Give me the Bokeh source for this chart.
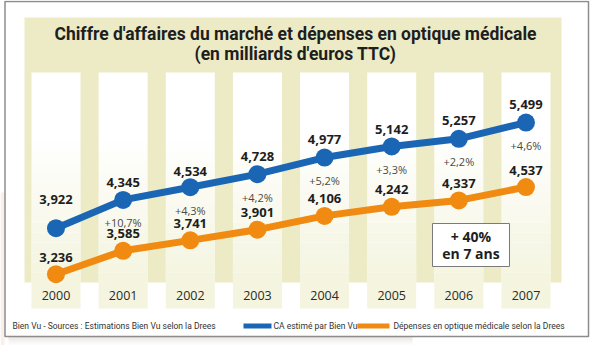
from bokeh.plotting import figure
from bokeh.models import Range1d
from bokeh.core.properties import value
from bokeh.embed import file_html
from bokeh.resources import INLINE

# ---------------- data ----------------
years = [2000, 2001, 2002, 2003, 2004, 2005, 2006, 2007]
year_labels = ["2000", "2001", "2002", "2003", "2004", "2005", "2006", "2007"]
ca_values = [3.922, 4.345, 4.534, 4.728, 4.977, 5.142, 5.257, 5.499]
ca_labels = ["3,922", "4,345", "4,534", "4,728", "4,977", "5,142", "5,257", "5,499"]
dep_values = [3.236, 3.585, 3.741, 3.901, 4.106, 4.242, 4.337, 4.537]
dep_labels = ["3,236", "3,585", "3,741", "3,901", "4,106", "4,242", "4,337", "4,537"]
growth_years = [2001, 2002, 2003, 2004, 2005, 2006, 2007]
growth_labels = ["+10,7%", "+4,3%", "+4,2%", "+5,2%", "+3,3%", "+2,2%", "+4,6%"]

title_line1 = "Chiffre d'affaires du marché et dépenses en optique médicale"
title_line2 = "(en milliards d'euros TTC)"
source_text = "Bien Vu - Sources : Estimations Bien Vu selon la Drees"
legend_ca = "CA estimé par Bien Vu"
legend_dep = "Dépenses en optique médicale selon la Drees"
box_line1 = "+ 40%"
box_line2 = "en 7 ans"

# ---------------- layout helpers (page pixels -> data) ----------------
PX_PER_YEAR = 67.14
PX_PER_UNIT = 67.0


def X(px):
    return 2000 + (px - 63.5) / PX_PER_YEAR


def Y(py):
    return (498.5 - py) / PX_PER_UNIT


def dy(pix):
    return pix / PX_PER_UNIT


BLUE = "#1b66b4"
ORANGE = "#f08a11"
PANEL = "#ecebc6"
CELL = "#f4f4df"
DARK = "#1e1e1e"
TITLE_FONT = value("Roboto")
SMALL_FONT = value("Roboto")

p = figure(width=592, height=345,
           x_range=Range1d(X(8), X(600)), y_range=Range1d(Y(353), Y(8)),
           output_backend="svg", toolbar_location=None, min_border=0,
           x_axis_location=None, y_axis_location=None,
           outline_line_color=None, background_fill_color="white",
           border_fill_color="white")
p.grid.visible = False

# soft shadow below the frame
for k, a in enumerate([0.35, 0.25, 0.15, 0.08]):
    p.quad(left=X(16), right=X(420), top=Y(344 + 2 * k), bottom=Y(346 + 2 * k),
           fill_color="#c9b8b0", fill_alpha=a, line_color=None)
p.quad(left=X(8), right=X(12), top=Y(200), bottom=Y(353),
       fill_color="#f6e6da", fill_alpha=0.6, line_color=None)

# frame
p.quad(left=X(12.5), right=X(596), top=Y(9), bottom=Y(344),
       fill_color="white", line_color="#8c8c8c", line_width=1.5)

# beige panel
p.quad(left=X(32), right=X(569), top=Y(25), bottom=Y(290),
       fill_color=PANEL, line_color=None)

# white columns with a soft gradient to beige at the bottom
col_w = 49 / PX_PER_YEAR
p.vbar(x=years, width=col_w, top=Y(80), bottom=Y(290),
       fill_color="white", line_color=None)
n = 14
for k in range(n):
    p.vbar(x=years, width=col_w, top=Y(150 + 10 * k), bottom=Y(160 + 10 * k),
           fill_color=CELL, fill_alpha=(k + 1) / n, line_color=None)
# year cells
p.vbar(x=years, width=col_w, top=Y(290), bottom=Y(316),
       fill_color=CELL, line_color=None)

# title
p.text(x=[X(303)], y=[Y(41)], text=[title_line1],
       text_font=TITLE_FONT, text_font_style="bold",
       text_font_size="17.5px", text_color=DARK,
       text_align="center", text_baseline="middle")
p.text(x=[X(303)], y=[Y(61)], text=[title_line2],
       text_font=TITLE_FONT, text_font_style="bold",
       text_font_size="17.5px", text_color=DARK,
       text_align="center", text_baseline="middle")

# lines
p.line(years, ca_values, line_width=7, line_color=BLUE)
p.scatter(years, ca_values, size=18, fill_color=BLUE, line_color=None)
p.line(years, dep_values, line_width=7, line_color=ORANGE)
p.scatter(years, dep_values, size=18, fill_color=ORANGE, line_color=None)

# value labels
ca_offsets = [29, 17, 16, 18, 18, 17, 18, 18]
p.text(x=years, y=[v + dy(o) for v, o in zip(ca_values, ca_offsets)], text=ca_labels,
       text_font=value("Open Sans"), text_font_style="bold", text_font_size="13px",
       text_color=DARK, text_align="center", text_baseline="middle")
p.text(x=years, y=[v + dy(17) for v in dep_values], text=dep_labels,
       text_font=value("Open Sans"), text_font_style="bold", text_font_size="13px",
       text_color=DARK, text_align="center", text_baseline="middle")
p.text(x=growth_years, y=[ca_values[years.index(g)] - dy(23) for g in growth_years],
       text=growth_labels, text_font=value("Open Sans"), text_font_size="11px",
       text_color="#4a4a4a", text_align="center", text_baseline="middle")

# year labels
p.text(x=years, y=[Y(303)] * len(years), text=year_labels,
       text_font=value("Open Sans"), text_font_size="12.5px", text_color="#2a2a2a",
       text_align="center", text_baseline="middle")

# +40% box
p.quad(left=X(440), right=X(517), top=Y(231), bottom=Y(274),
       fill_color="white", line_color="#7a7a7a", line_width=1)
p.text(x=[X(478.5)], y=[Y(244)], text=[box_line1],
       text_font=value("Open Sans"), text_font_style="bold", text_font_size="14px",
       text_color=DARK, text_align="center", text_baseline="middle")
p.text(x=[X(478.5)], y=[Y(261)], text=[box_line2],
       text_font=value("Open Sans"), text_font_style="bold", text_font_size="14px",
       text_color=DARK, text_align="center", text_baseline="middle")

# footer / legend
p.quad(left=X(251), right=X(279), top=Y(331), bottom=Y(336),
       fill_color=BLUE, line_color=None)
p.quad(left=X(365), right=X(397), top=Y(331), bottom=Y(336),
       fill_color=ORANGE, line_color=None)
p.text(x=[X(20)], y=[Y(333.5)], text=[source_text],
       text_font=SMALL_FONT, text_font_size="8.5px",
       text_color="#333333", text_align="left", text_baseline="middle")
p.text(x=[X(281)], y=[Y(333.5)], text=[legend_ca],
       text_font=SMALL_FONT, text_font_size="8.5px",
       text_color="#333333", text_align="left", text_baseline="middle")
p.text(x=[X(401)], y=[Y(333.5)], text=[legend_dep],
       text_font=SMALL_FONT, text_font_size="8.5px",
       text_color="#333333", text_align="left", text_baseline="middle")

open("out.html", "w").write(file_html(p, INLINE))
